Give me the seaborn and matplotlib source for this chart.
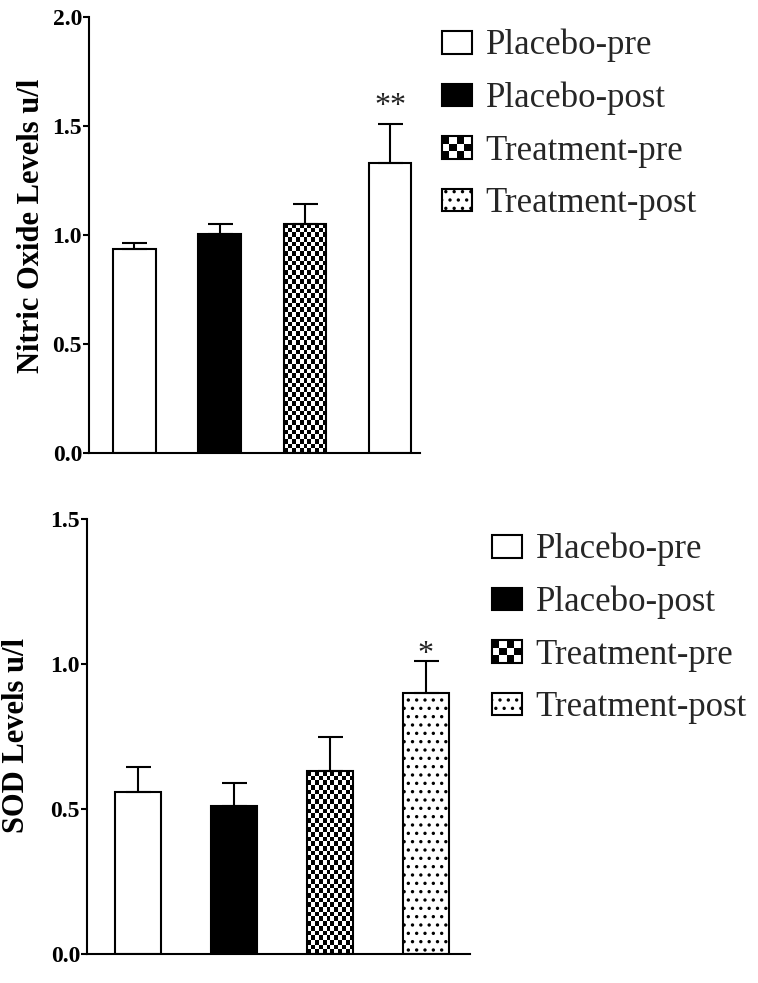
import numpy as np
import pandas as pd
import matplotlib
matplotlib.use("Agg")
import matplotlib.pyplot as plt
import seaborn as sns
from matplotlib.patches import Rectangle, Patch
from matplotlib.legend_handler import HandlerBase

# ---------------- data ----------------
groups = ["Placebo-pre", "Placebo-post", "Treatment-pre", "Treatment-post"]
no_mean = [0.935, 1.005, 1.05, 1.33]
no_sem = [0.03, 0.045, 0.09, 0.18]
no_sig = ["", "", "", "**"]
sod_mean = [0.56, 0.51, 0.63, 0.90]
sod_sem = [0.085, 0.08, 0.12, 0.11]
sod_sig = ["", "", "", "*"]
no_ylabel = "Nitric Oxide Levels u/l"
sod_ylabel = "SOD Levels u/l"
no_ticks = [0.0, 0.5, 1.0, 1.5, 2.0]
sod_ticks = [0.0, 0.5, 1.0, 1.5]

sns.set_theme(style="ticks")
plt.rcParams["font.family"] = ["Liberation Serif", "DejaVu Serif"]
plt.rcParams["hatch.linewidth"] = 1.2

fig = plt.figure(figsize=(7.58, 9.83), dpi=100)
ax1 = fig.add_axes([0.1174, 0.5389, 0.4367, 0.4442])
ax2 = fig.add_axes([0.1148, 0.0295, 0.5053, 0.4425])

LW = 1.5


def checker_fill(ax, patch, cell_w_px=4.0, cell_h_px=4.7):
    x0, y0 = patch.get_x(), patch.get_y()
    w, h = patch.get_width(), patch.get_height()
    p0 = ax.transData.transform((x0, y0))
    p1 = ax.transData.transform((x0 + w, y0 + h))
    ncol = max(1, int(round(abs(p1[0] - p0[0]) / cell_w_px)))
    nrow = max(1, int(round(abs(p1[1] - p0[1]) / cell_h_px)))
    ii, jj = np.indices((nrow, ncol))
    arr = ((ii + jj) % 2).astype(float)
    im = ax.imshow(arr, cmap="gray", vmin=0, vmax=1, extent=(x0, x0 + w, y0, y0 + h),
                   aspect="auto", interpolation="nearest", origin="lower", zorder=1.5)
    im.set_clip_path(patch)
    patch.set_facecolor("none")
    patch.set_zorder(2)


def panel(ax, means, sems, sigs, ylabel, ticks, ylim, xlim, width, star_off, dotted_last, label_xy):
    df = pd.DataFrame({"group": groups, "value": means})
    sns.barplot(data=df, x="group", y="value", order=groups, color="white", saturation=1,
                edgecolor="black", linewidth=LW, width=width, errorbar=None, ax=ax)
    ax.set_xlim(*xlim)
    ax.set_ylim(*ylim)
    patches = list(ax.patches)
    patches[1].set_facecolor("black")
    if dotted_last:
        patches[3].set_hatch("..")
    xs = [p.get_x() + p.get_width() / 2 for p in patches]
    hs = [p.get_height() for p in patches]
    ax.errorbar(xs, hs, yerr=[np.zeros(len(sems)), sems], fmt="none", ecolor="black",
                elinewidth=LW, capsize=9, capthick=LW, zorder=3)
    checker_fill(ax, patches[2])
    for x, h, s, sg in zip(xs, hs, sems, sigs):
        if sg:
            ax.annotate(sg, (x, h + s), xytext=(0, star_off), textcoords="offset points",
                        ha="center", va="center", fontsize=23, color="#222222")
    sns.despine(ax=ax)
    ax.set_xticks([])
    ax.set_xlabel("")
    ax.set_yticks(ticks)
    ax.set_yticklabels([f"{t:.1f}" for t in ticks], fontweight="bold", fontsize=17)
    ax.tick_params(axis="y", length=4, width=LW, pad=1, color="black", labelcolor="black")
    for sp in ["left", "bottom"]:
        ax.spines[sp].set_linewidth(LW)
        ax.spines[sp].set_color("black")
    ax.set_ylabel(ylabel, fontweight="bold", fontsize=22, color="black")
    ax.yaxis.set_label_coords(*label_xy)


panel(ax1, no_mean, no_sem, no_sig, no_ylabel, no_ticks, (0, 2.0), (-0.53, 3.35), 0.5, 12,
      False, (-0.13, 0.52))
panel(ax2, sod_mean, sod_sem, sod_sig, sod_ylabel, sod_ticks, (0, 1.5), (-0.53, 3.46), 0.48, 5,
      True, (-0.145, 0.502))


class HandlerChecker(HandlerBase):
    def create_artists(self, legend, orig_handle, xdescent, ydescent, width, height, fontsize, trans):
        arts = [Rectangle((-xdescent, -ydescent), width, height, facecolor="white",
                          edgecolor="none", transform=trans)]
        nx, ny = 4, 3
        cw, ch = width / nx, height / ny
        for i in range(nx):
            for j in range(ny):
                if (i + j) % 2 == 0:
                    arts.append(Rectangle((-xdescent + i * cw, -ydescent + j * ch), cw, ch,
                                          facecolor="black", edgecolor="none", transform=trans))
        arts.append(Rectangle((-xdescent, -ydescent), width, height, facecolor="none",
                              edgecolor="black", lw=LW, transform=trans))
        return arts


def make_handles():
    return [Patch(facecolor="white", edgecolor="black", lw=LW),
            Patch(facecolor="black", edgecolor="black", lw=LW),
            Patch(facecolor="white", edgecolor="black", lw=LW, label="chk"),
            Patch(facecolor="white", edgecolor="black", lw=LW, hatch="..")]


for anchor in [(442 / 758, 1 - 29 / 983), (492 / 758, 1 - 533 / 983)]:
    hds = make_handles()
    fig.legend(hds, groups, loc="upper left", bbox_to_anchor=anchor, frameon=False,
               fontsize=25, handlelength=0.86, handleheight=0.62, handletextpad=0.4,
               labelspacing=0.56, borderpad=0, borderaxespad=0,
               handler_map={hds[2]: HandlerChecker()})

fig.savefig("out.png", dpi=100, facecolor="white")
